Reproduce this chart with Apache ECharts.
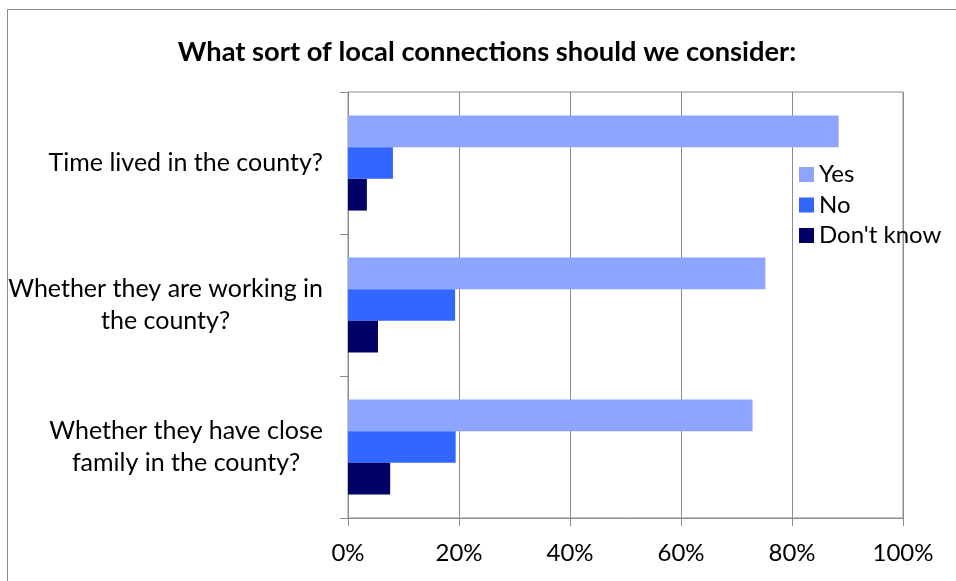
<!DOCTYPE html>
<html>
<head>
<meta charset="utf-8">
<script src="https://cdn.jsdelivr.net/npm/echarts@6/dist/echarts.min.js"></script>
<style>
html,body{margin:0;padding:0;background:#fff;}
#chart{width:956px;height:581px;}
</style>
</head>
<body>
<div id="chart"></div>
<script>
const titleText = "What sort of local connections should we consider:";
const categories = [
  "Time lived in the county?",
  "Whether they are working in\nthe county?",
  "Whether they have close\nfamily in the county?"
];
const seriesNames = ["Yes", "No", "Don't know"];
const yesValues = [88.4, 75.2, 72.9];
const noValues = [8.1, 19.3, 19.4];
const dontKnowValues = [3.4, 5.4, 7.6];
const xTicks = [0, 20, 40, 60, 80, 100];

const FONT = "Lato";
const FS = 25;
const GRAY = "#8c8c8c";
const colors = ["#8DA5FF", "#3366FF", "#000066"];

const chart = echarts.init(document.getElementById('chart'), null, {renderer: 'canvas'});
const option = {
  animation: false,
  backgroundColor: '#ffffff',
  textStyle: {fontFamily: FONT, color: '#000'},
  graphic: [{
    type: 'rect',
    shape: {x: 7.5, y: 9.5, width: 1200, height: 1200},
    style: {fill: 'none', stroke: GRAY, lineWidth: 1},
    silent: true
  }],
  title: {
    text: titleText,
    left: 482, top: 47,
    textAlign: 'center', textVerticalAlign: 'middle',
    textStyle: {fontFamily: FONT, fontWeight: 'bold', fontSize: 27.3, color: '#000'}
  },
  legend: {
    orient: 'vertical',
    left: 799, top: 162,
    padding: 0,
    itemWidth: 15, itemHeight: 15,
    itemGap: 5.5,
    icon: 'rect',
    data: seriesNames,
    textStyle: {fontFamily: FONT, fontSize: 24, color: '#000', lineHeight: 25}
  },
  grid: {
    left: 348, right: 53, top: 92, bottom: 63,
    show: true, borderColor: GRAY, borderWidth: 1, backgroundColor: 'transparent',
    containLabel: false
  },
  xAxis: {
    type: 'value', min: 0, max: 100, interval: 20,
    axisLine: {show: true, lineStyle: {color: GRAY, width: 1}},
    axisTick: {show: true, length: 8, lineStyle: {color: GRAY, width: 1}},
    splitLine: {show: true, lineStyle: {color: GRAY, width: 1}},
    axisLabel: {
      margin: 23, fontFamily: FONT, fontSize: 24, color: '#000',
      formatter: v => (xTicks.indexOf(v) >= 0 ? v + '%' : '')
    }
  },
  yAxis: {
    type: 'category', inverse: true, data: categories,
    axisLine: {show: true, lineStyle: {color: GRAY, width: 1}},
    axisTick: {show: true, length: 8, interval: 0, lineStyle: {color: GRAY, width: 1}},
    splitLine: {show: false},
    axisLabel: {
      margin: 25, fontFamily: FONT, fontSize: FS, color: '#000', lineHeight: 31.5,
      formatter: v => v.split('\n').map(l => '{c|' + l + '}').join('\n'),
      rich: {c: {align: 'center', fontFamily: FONT, fontSize: FS, color: '#000', lineHeight: 31.5}}
    }
  },
  series: [
    {name: seriesNames[0], type: 'bar', data: yesValues, itemStyle: {color: colors[0]}, barGap: '0%', barCategoryGap: '33%'},
    {name: seriesNames[1], type: 'bar', data: noValues, itemStyle: {color: colors[1]}, barGap: '0%', barCategoryGap: '33%'},
    {name: seriesNames[2], type: 'bar', data: dontKnowValues, itemStyle: {color: colors[2]}, barGap: '0%', barCategoryGap: '33%'}
  ]
};
chart.setOption(option);
</script>
</body>
</html>
